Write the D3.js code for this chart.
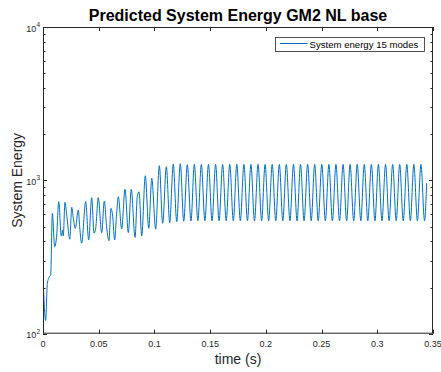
<!DOCTYPE html>
<html>
  <head>
    <meta charset="utf-8">
    <title>Predicted System Energy</title>
    <script src="https://d3js.org/d3.v7.min.js"></script>
    <style>
      body { margin: 0; background: #fff; }
      svg { font-family: "Liberation Sans", Arial, sans-serif; }
    </style>
  </head>
  <body>
    <div id="chart"></div>
    <script>
      // time (s) at peaks / troughs of the trace
      const times = [
        0.0003, 0.0024, 0.0039, 0.0057, 0.0069, 0.0084, 0.0105, 0.0123, 0.0141, 0.0164,
        0.0177, 0.0182, 0.0197, 0.0213, 0.0240, 0.0258, 0.0272, 0.0290, 0.0317, 0.0329,
        0.0347, 0.0383, 0.0410, 0.0437, 0.0458, 0.0473, 0.0496, 0.0527, 0.0550, 0.0572,
        0.0592, 0.0610, 0.0626, 0.0643, 0.0661, 0.0676, 0.0706, 0.0736, 0.0766, 0.0792,
        0.0826, 0.0846, 0.0862, 0.0886, 0.0918, 0.0949, 0.0976, 0.1011, 0.1044, 0.1074,
        0.1107, 0.1137, 0.1169, 0.1200, 0.1232, 0.1263, 0.1295, 0.1328,
        0.1358, 0.1390, 0.1421, 0.1453, 0.1485, 0.1517, 0.1549, 0.1580, 0.1612, 0.1644,
        0.1676, 0.1708, 0.1739, 0.1771, 0.1803, 0.1835, 0.1866, 0.1898, 0.1930, 0.1962,
        0.1993, 0.2025, 0.2057, 0.2089, 0.2121, 0.2152, 0.2184, 0.2216, 0.2248, 0.2280,
        0.2311, 0.2343, 0.2375, 0.2407, 0.2438, 0.2470, 0.2502, 0.2534, 0.2566, 0.2597,
        0.2629, 0.2661, 0.2693, 0.2725, 0.2756, 0.2788, 0.2820, 0.2852, 0.2883, 0.2915,
        0.2947, 0.2979, 0.3010, 0.3042, 0.3074, 0.3106, 0.3138, 0.3170, 0.3201, 0.3233,
        0.3265, 0.3297, 0.3328, 0.3360, 0.3392, 0.3424, 0.3443
      ];

      // system energy at those times
      const energy = [
        203, 122, 213, 235, 242, 610, 369, 440, 726, 434,
        475, 434, 719, 594, 413, 667, 566, 487, 641, 499,
        389, 726, 408, 771, 452, 487, 771, 456, 733, 487,
        404, 657, 579, 408, 610, 782, 482, 874, 456, 874,
        425, 782, 843, 434, 1072, 487, 1031, 480, 1246, 525,
        1227, 530, 1273, 538, 1284, 541, 1265, 543,
        1270, 545, 1270, 545, 1270, 545, 1270, 545, 1270, 545,
        1270, 545, 1270, 545, 1270, 545, 1270, 545, 1270, 545,
        1270, 545, 1270, 545, 1270, 545, 1270, 545, 1270, 545,
        1270, 545, 1270, 545, 1270, 545, 1270, 545, 1270, 545,
        1270, 545, 1270, 545, 1270, 545, 1270, 545, 1270, 545,
        1270, 545, 1270, 545, 1270, 545, 1270, 545, 1270, 545,
        1270, 545, 1270, 545, 1270, 545, 957
      ];

      const xTicks = [0, 0.05, 0.1, 0.15, 0.2, 0.25, 0.3, 0.35];
      const xTickLabels = ["0", "0.05", "0.1", "0.15", "0.2", "0.25", "0.3", "0.35"];
      const yTicks = [100, 1000, 10000];
      const yTickExp = ["2", "3", "4"];

      const width = 441;
      const height = 372;
      const margin = {top: 27, right: 8, bottom: 38.3, left: 43};
      const axisColor = "#262626";
      const lineColor = "#0072BD";

      const svg = d3.select("#chart")
        .append("svg")
        .attr("width", width)
        .attr("height", height);

      const x = d3.scaleLinear()
        .domain([0, 0.35])
        .range([margin.left, width - margin.right]);

      const y = d3.scaleLog()
        .domain([100, 10000])
        .range([height - margin.bottom, margin.top]);

      const x0 = x.range()[0], x1 = x.range()[1];
      const y0 = y.range()[0], y1 = y.range()[1];

      // minor ticks for the log axis
      const minorTicks = [];
      [100, 1000].forEach(d => {
        for (let k = 2; k <= 9; k++) minorTicks.push(d * k);
      });

      const data = times.map((t, i) => ({t: t, e: energy[i]}));

      // the trace
      const line = d3.line()
        .x(d => x(d.t))
        .y(d => y(d.e))
        .curve(d3.curveMonotoneX);

      svg.append("path")
        .datum(data)
        .attr("fill", "none")
        .attr("stroke", lineColor)
        .attr("stroke-width", 1)
        .attr("d", line);

      // ticks (inward, mirrored on all sides)
      const tickG = svg.append("g")
        .attr("stroke", axisColor)
        .attr("stroke-width", 1);

      xTicks.forEach(d => {
        const px = Math.round(x(d)) + 0.5;
        tickG.append("line").attr("x1", px).attr("x2", px).attr("y1", y0).attr("y2", y0 - 4);
        tickG.append("line").attr("x1", px).attr("x2", px).attr("y1", y1).attr("y2", y1 + 4);
      });

      yTicks.forEach(d => {
        const py = Math.round(y(d)) + 0.5;
        tickG.append("line").attr("x1", x0).attr("x2", x0 + 4).attr("y1", py).attr("y2", py);
        tickG.append("line").attr("x1", x1).attr("x2", x1 - 4).attr("y1", py).attr("y2", py);
      });

      minorTicks.forEach(d => {
        const py = Math.round(y(d)) + 0.5;
        tickG.append("line").attr("x1", x0).attr("x2", x0 + 2.5).attr("y1", py).attr("y2", py);
        tickG.append("line").attr("x1", x1).attr("x2", x1 - 2.5).attr("y1", py).attr("y2", py);
      });

      // box
      svg.append("rect")
        .attr("x", x0 + 0.5)
        .attr("y", y1 + 0.5)
        .attr("width", x1 - x0 - 1)
        .attr("height", y0 - y1 - 1)
        .attr("fill", "none")
        .attr("stroke", axisColor)
        .attr("stroke-width", 1);

      // x tick labels
      svg.append("g")
        .selectAll("text")
        .data(xTicks)
        .enter().append("text")
        .attr("x", d => x(d))
        .attr("y", y0 + 13)
        .attr("text-anchor", "middle")
        .attr("font-size", 9)
        .attr("fill", axisColor)
        .text((d, i) => xTickLabels[i]);

      // y tick labels as 10^n
      const yLab = svg.append("g")
        .selectAll("text")
        .data(yTicks)
        .enter().append("text")
        .attr("x", x0 - 3)
        .attr("y", d => y(d) + 4.5)
        .attr("text-anchor", "end")
        .attr("font-size", 9)
        .attr("fill", axisColor);
      yLab.append("tspan").text("10");
      yLab.append("tspan")
        .attr("dy", -4.5)
        .attr("font-size", 6.5)
        .text((d, i) => yTickExp[i]);

      // title and axis labels
      svg.append("text")
        .attr("x", (x0 + x1) / 2)
        .attr("y", 20.5)
        .attr("text-anchor", "middle")
        .attr("font-size", 16)
        .attr("font-weight", "bold")
        .attr("fill", "#000")
        .text("Predicted System Energy GM2 NL base");

      svg.append("text")
        .attr("x", (x0 + x1) / 2)
        .attr("y", 363.5)
        .attr("text-anchor", "middle")
        .attr("font-size", 14)
        .attr("fill", axisColor)
        .text("time (s)");

      svg.append("text")
        .attr("transform", `translate(22,${(y0 + y1) / 2}) rotate(-90)`)
        .attr("text-anchor", "middle")
        .attr("font-size", 14)
        .attr("fill", axisColor)
        .text("System Energy");

      // legend
      const legend = svg.append("g");
      legend.append("rect")
        .attr("x", 275.5)
        .attr("y", 37.5)
        .attr("width", 149)
        .attr("height", 14)
        .attr("fill", "#fff")
        .attr("stroke", axisColor)
        .attr("stroke-width", 0.8);
      legend.append("line")
        .attr("x1", 280)
        .attr("x2", 307.5)
        .attr("y1", 43.5)
        .attr("y2", 43.5)
        .attr("stroke", lineColor)
        .attr("stroke-width", 1);
      legend.append("text")
        .attr("x", 309.5)
        .attr("y", 47.5)
        .attr("font-size", 9.6)
        .attr("fill", "#000")
        .text("System energy 15 modes");
    </script>
  </body>
</html>
